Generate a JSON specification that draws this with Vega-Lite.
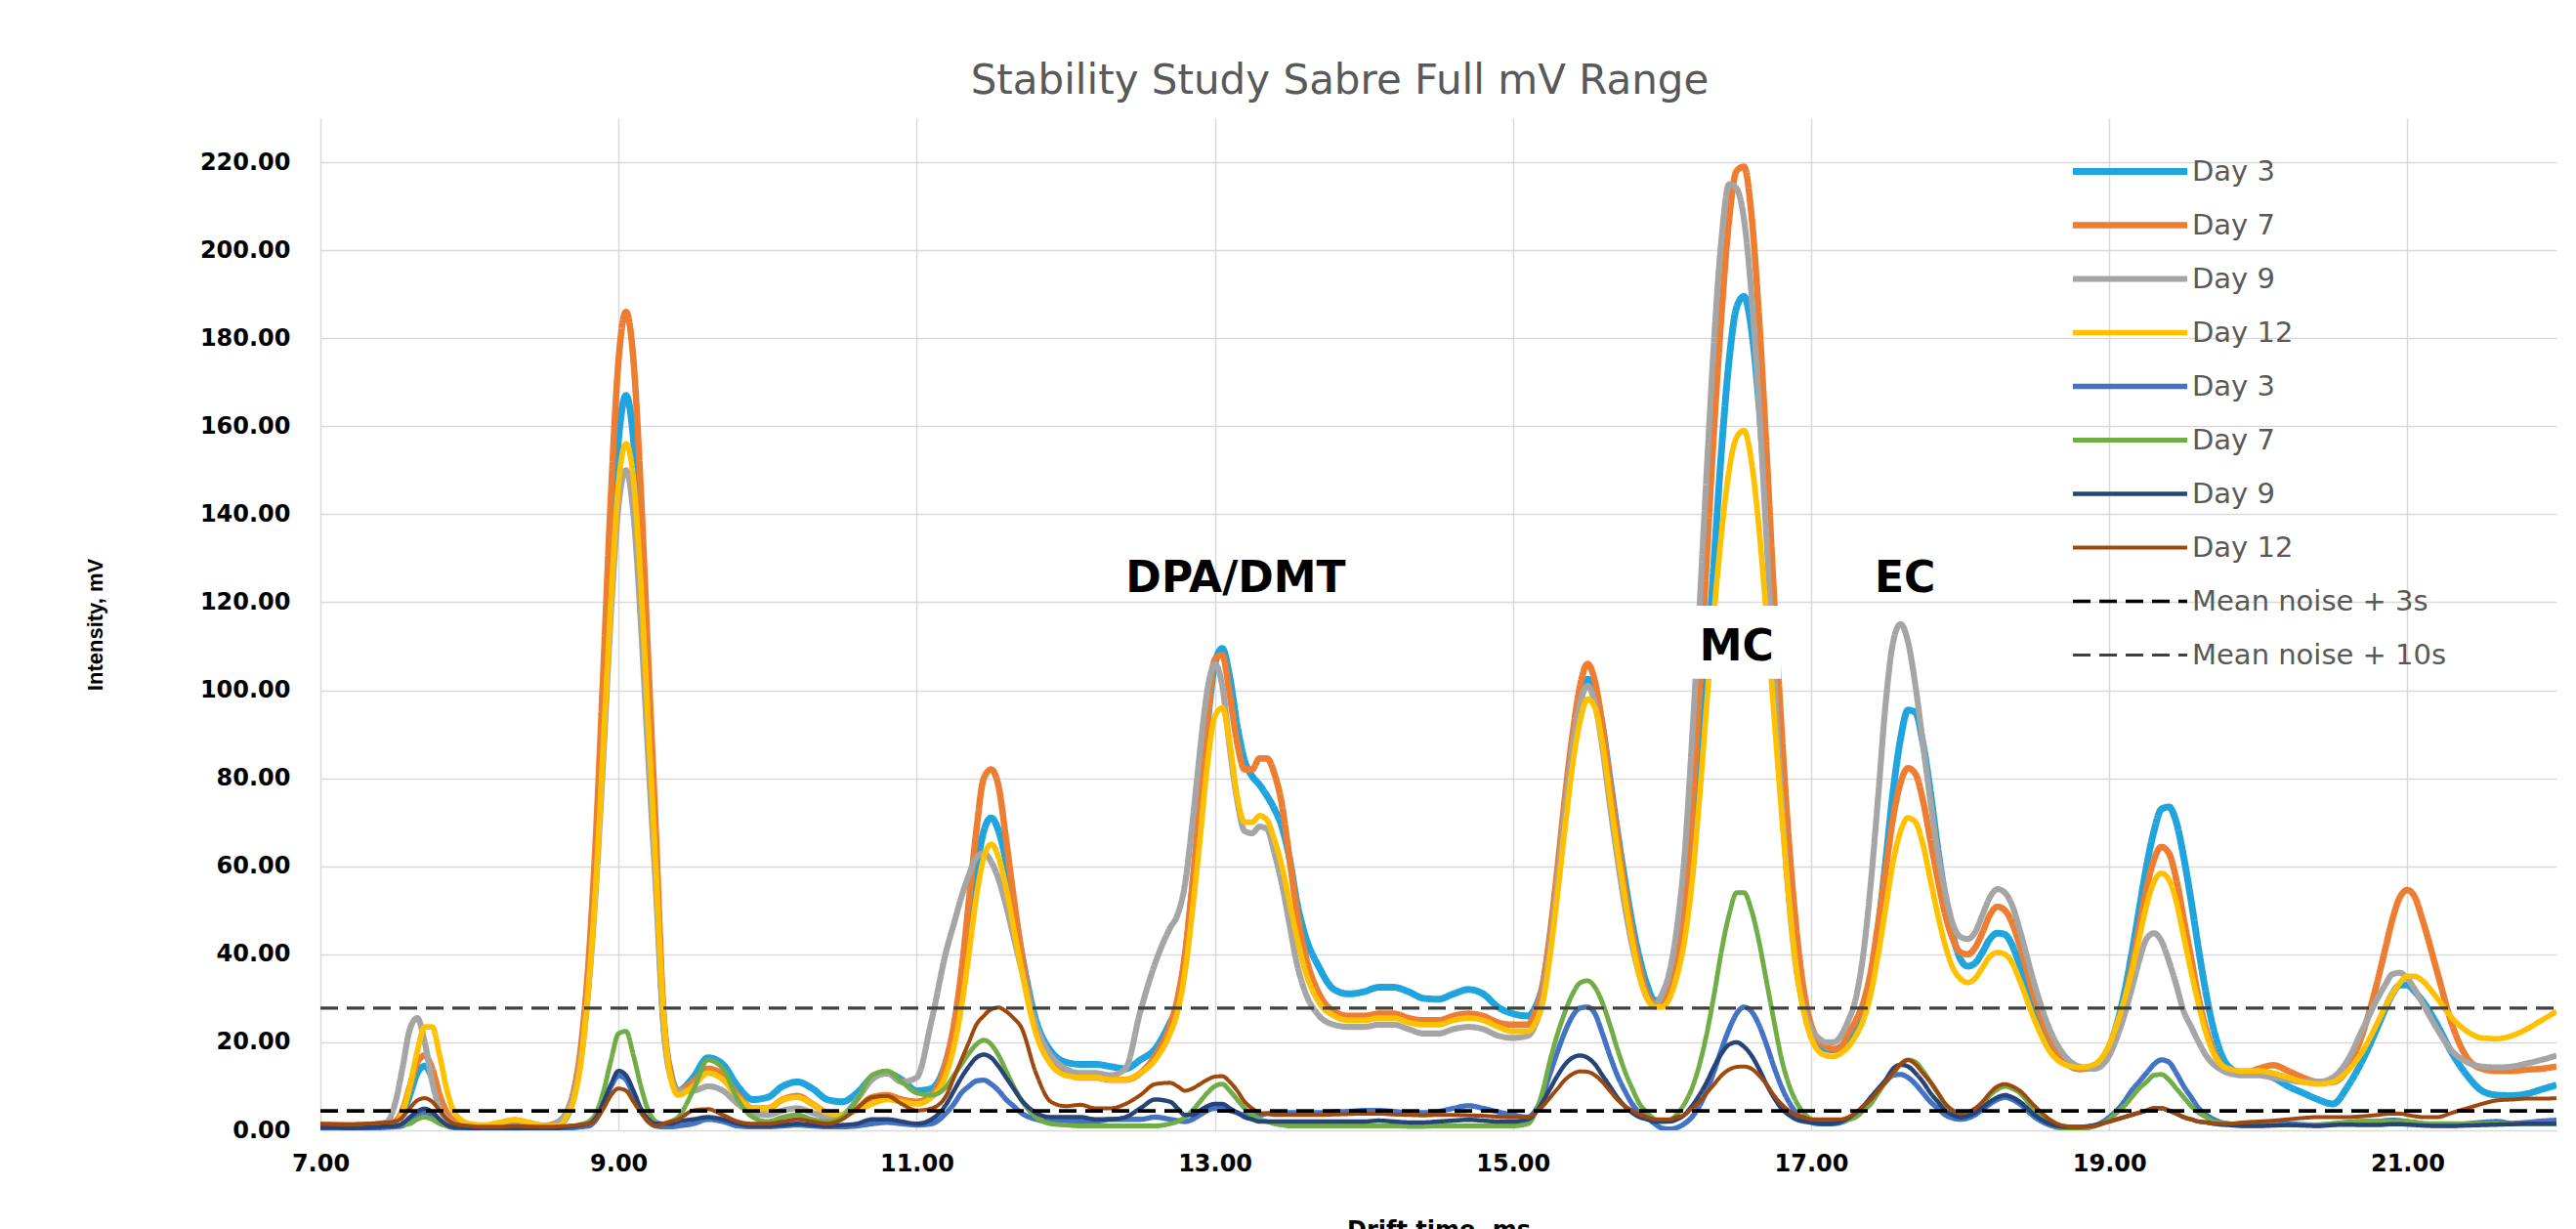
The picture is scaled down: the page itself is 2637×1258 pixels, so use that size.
{
"$schema": "https://vega.github.io/schema/vega-lite/v6.json",
"width": 2289, "height": 1036,
"autosize": {"type": "none"},
"padding": {"left": 328, "top": 121, "right": 20, "bottom": 101},
"background": "white",
"config": {"view": {"stroke": null}, "font": "DejaVu Sans"},
"title": {"text": "Stability Study Sabre Full mV Range", "font": "DejaVu Sans", "fontSize": 42, "fontWeight": "normal", "color": "#595959", "anchor": "middle", "dx": -101, "offset": 16},
"layer": [
{
"data": {"values": [
{"t":7.0,"a3":1.0,"a7":1.2,"a9":0.8,"a12":0.2,"b3":0.5,"b7":0.8,"b9":0.6,"b12":1.5},
{"t":7.1,"a3":1.0,"a7":1.2,"a9":0.8,"a12":0.3,"b3":0.5,"b7":0.7,"b9":0.6,"b12":1.4},
{"t":7.2,"a3":0.9,"a7":1.1,"a9":0.9,"a12":0.4,"b3":0.4,"b7":0.7,"b9":0.5,"b12":1.4},
{"t":7.3,"a3":1.0,"a7":1.2,"a9":1.0,"a12":0.5,"b3":0.5,"b7":0.8,"b9":0.6,"b12":1.5},
{"t":7.4,"a3":1.2,"a7":1.4,"a9":1.5,"a12":0.7,"b3":0.6,"b7":0.9,"b9":0.8,"b12":1.7},
{"t":7.45,"a3":1.3,"a7":1.6,"a9":2.0,"a12":0.9,"b3":0.7,"b7":1.0,"b9":0.9,"b12":1.8},
{"t":7.5,"a3":1.5,"a7":2.0,"a9":6.0,"a12":1.5,"b3":0.8,"b7":1.1,"b9":1.0,"b12":2.0},
{"t":7.55,"a3":3.5,"a7":4.5,"a9":14,"a12":4,"b3":1.0,"b7":1.2,"b9":1.5,"b12":3},
{"t":7.6,"a3":8,"a7":10,"a9":23,"a12":10,"b3":2.5,"b7":1.5,"b9":3,"b12":5},
{"t":7.65,"a3":13,"a7":15.5,"a9":25.5,"a12":18,"b3":3.6,"b7":2.5,"b9":4.3,"b12":6.8},
{"t":7.7,"a3":14.6,"a7":17,"a9":20,"a12":23.5,"b3":4.1,"b7":3,"b9":4.9,"b12":7.3},
{"t":7.75,"a3":12,"a7":14,"a9":11,"a12":23.5,"b3":3.5,"b7":2.5,"b9":4.2,"b12":6.5},
{"t":7.8,"a3":7,"a7":8,"a9":5,"a12":17,"b3":2,"b7":1.5,"b9":2.5,"b12":4.5},
{"t":7.85,"a3":3.5,"a7":4,"a9":2.5,"a12":9,"b3":1,"b7":1,"b9":1.2,"b12":2.5},
{"t":7.9,"a3":2,"a7":2,"a9":1.5,"a12":4,"b3":0.6,"b7":0.7,"b9":0.7,"b12":1.5},
{"t":8.0,"a3":1,"a7":1.2,"a9":0.8,"a12":1.5,"b3":0.4,"b7":0.5,"b9":0.5,"b12":1.0},
{"t":8.1,"a3":0.8,"a7":1.0,"a9":0.6,"a12":1.2,"b3":0.3,"b7":0.4,"b9":0.4,"b12":0.8},
{"t":8.2,"a3":0.8,"a7":1.5,"a9":0.7,"a12":1.8,"b3":0.3,"b7":0.5,"b9":0.4,"b12":0.8},
{"t":8.3,"a3":1.0,"a7":2.2,"a9":0.9,"a12":2.4,"b3":0.4,"b7":0.6,"b9":0.5,"b12":1.0},
{"t":8.4,"a3":0.9,"a7":1.6,"a9":0.8,"a12":1.8,"b3":0.3,"b7":0.5,"b9":0.4,"b12":0.9},
{"t":8.5,"a3":0.8,"a7":1.0,"a9":0.7,"a12":1.0,"b3":0.3,"b7":0.4,"b9":0.4,"b12":0.8},
{"t":8.6,"a3":1.5,"a7":2,"a9":2,"a12":1,"b3":0.4,"b7":0.5,"b9":0.5,"b12":0.9},
{"t":8.65,"a3":3,"a7":4,"a9":4,"a12":3,"b3":0.5,"b7":0.8,"b9":0.7,"b12":1.0},
{"t":8.7,"a3":8,"a7":9,"a9":8,"a12":7,"b3":0.6,"b7":1.0,"b9":0.9,"b12":1.1},
{"t":8.75,"a3":18,"a7":19.6,"a9":17,"a12":16,"b3":0.8,"b7":1.4,"b9":1.2,"b12":1.3},
{"t":8.8,"a3":35,"a7":38.8,"a9":33,"a12":33,"b3":1,"b7":2,"b9":1.5,"b12":1.5},
{"t":8.85,"a3":61,"a7":68,"a9":56,"a12":57,"b3":2.5,"b7":4,"b9":3,"b12":2.5},
{"t":8.9,"a3":95,"a7":106,"a9":86,"a12":89,"b3":6,"b7":9,"b9":6.5,"b12":5},
{"t":8.95,"a3":130,"a7":145,"a9":118,"a12":121,"b3":10,"b7":16,"b9":10.5,"b12":8},
{"t":9.0,"a3":157,"a7":175,"a9":142,"a12":147,"b3":12.4,"b7":22,"b9":13.5,"b12":9.5},
{"t":9.05,"a3":167,"a7":186,"a9":150,"a12":156,"b3":11.5,"b7":22.5,"b9":12.5,"b12":9},
{"t":9.1,"a3":157,"a7":175,"a9":140,"a12":148,"b3":8,"b7":17,"b9":9,"b12":6.5},
{"t":9.15,"a3":130,"a7":145,"a9":115,"a12":124,"b3":4.5,"b7":10,"b9":5,"b12":4},
{"t":9.2,"a3":95,"a7":106,"a9":84,"a12":92,"b3":2,"b7":4.5,"b9":2.5,"b12":2},
{"t":9.25,"a3":61,"a7":68,"a9":55,"a12":60,"b3":1,"b7":2,"b9":1.5,"b12":1},
{"t":9.3,"a3":26,"a7":27,"a9":24,"a12":27,"b3":0.8,"b7":1.5,"b9":1.5,"b12":1.5},
{"t":9.35,"a3":13,"a7":13,"a9":12,"a12":12,"b3":0.8,"b7":2,"b9":1.5,"b12":2},
{"t":9.4,"a3":9,"a7":9,"a9":9,"a12":8,"b3":1,"b7":3,"b9":2,"b12":2.5},
{"t":9.5,"a3":12,"a7":11,"a9":9,"a12":10,"b3":1.5,"b7":9,"b9":2.5,"b12":4.5},
{"t":9.6,"a3":16.5,"a7":14,"a9":10,"a12":13,"b3":2.5,"b7":16,"b9":3,"b12":4.8},
{"t":9.7,"a3":15,"a7":12.5,"a9":9,"a12":11.5,"b3":2,"b7":14,"b9":2.5,"b12":3.5},
{"t":9.8,"a3":10,"a7":8,"a9":6,"a12":7.5,"b3":1,"b7":7,"b9":1.5,"b12":2},
{"t":9.9,"a3":7,"a7":5,"a9":4,"a12":5,"b3":0.8,"b7":3,"b9":1,"b12":1.5},
{"t":10.0,"a3":7.5,"a7":5,"a9":3.5,"a12":5,"b3":0.8,"b7":2,"b9":1,"b12":1.5},
{"t":10.1,"a3":10,"a7":7,"a9":4.5,"a12":7,"b3":1,"b7":3,"b9":1.2,"b12":2},
{"t":10.2,"a3":11,"a7":7.8,"a9":5,"a12":7.5,"b3":1.2,"b7":3.5,"b9":1.5,"b12":2.5},
{"t":10.3,"a3":9.5,"a7":6,"a9":4,"a12":6,"b3":1,"b7":2.5,"b9":1.2,"b12":2},
{"t":10.4,"a3":7,"a7":4,"a9":3,"a12":4,"b3":0.8,"b7":2,"b9":1,"b12":1.5},
{"t":10.5,"a3":6.5,"a7":3.5,"a9":3.5,"a12":3.5,"b3":0.8,"b7":3,"b9":1.2,"b12":2.5},
{"t":10.6,"a3":8.5,"a7":5,"a9":7,"a12":4.5,"b3":1,"b7":7,"b9":1.5,"b12":5},
{"t":10.7,"a3":12,"a7":7.5,"a9":11.5,"a12":6,"b3":1.5,"b7":12.5,"b9":2.5,"b12":7.5},
{"t":10.8,"a3":13,"a7":8,"a9":13,"a12":7,"b3":1.8,"b7":13.5,"b9":2.5,"b12":7.8},
{"t":10.9,"a3":11.5,"a7":7,"a9":11,"a12":6.5,"b3":1.5,"b7":11,"b9":2,"b12":6},
{"t":11.0,"a3":9,"a7":6.5,"a9":12,"a12":6,"b3":1.2,"b7":8.5,"b9":1.5,"b12":4.5},
{"t":11.1,"a3":9.5,"a7":8,"a9":25,"a12":7.5,"b3":1.5,"b7":8,"b9":2.5,"b12":5},
{"t":11.2,"a3":16,"a7":16,"a9":41,"a12":13,"b3":4,"b7":10,"b9":6,"b12":8},
{"t":11.25,"a3":23,"a7":24,"a9":47,"a12":19,"b3":6,"b7":12.5,"b9":9,"b12":12},
{"t":11.3,"a3":33,"a7":36,"a9":53,"a12":28,"b3":8.5,"b7":15,"b9":12,"b12":16},
{"t":11.35,"a3":46,"a7":52,"a9":58,"a12":40,"b3":10,"b7":17.5,"b9":14.5,"b12":20},
{"t":11.4,"a3":59,"a7":68,"a9":62,"a12":53,"b3":11.2,"b7":19.5,"b9":16.5,"b12":24},
{"t":11.45,"a3":68,"a7":80,"a9":63,"a12":62,"b3":11.4,"b7":20.5,"b9":17.2,"b12":26},
{"t":11.5,"a3":71,"a7":82,"a9":61,"a12":65,"b3":10.5,"b7":19.5,"b9":16.5,"b12":27.5},
{"t":11.55,"a3":68,"a7":78,"a9":57,"a12":62,"b3":9,"b7":17,"b9":14.5,"b12":27.9},
{"t":11.6,"a3":61,"a7":66,"a9":51,"a12":55,"b3":7,"b7":13.5,"b9":12,"b12":27},
{"t":11.65,"a3":51,"a7":53,"a9":44,"a12":46,"b3":5.5,"b7":10,"b9":9.5,"b12":25.5},
{"t":11.7,"a3":41,"a7":41,"a9":37,"a12":37,"b3":4,"b7":7,"b9":7,"b12":23.5},
{"t":11.8,"a3":25,"a7":23,"a9":24,"a12":22,"b3":2.5,"b7":3,"b9":4,"b12":13},
{"t":11.9,"a3":18,"a7":15.5,"a9":17,"a12":15,"b3":2,"b7":1.5,"b9":3,"b12":6.5},
{"t":12.0,"a3":15.5,"a7":13,"a9":14,"a12":12.5,"b3":2,"b7":1.2,"b9":3,"b12":5.5},
{"t":12.1,"a3":15,"a7":12,"a9":13,"a12":12,"b3":2,"b7":1,"b9":3,"b12":5.8},
{"t":12.2,"a3":15,"a7":12,"a9":13,"a12":12,"b3":2,"b7":1,"b9":2.5,"b12":5},
{"t":12.3,"a3":14.5,"a7":11.5,"a9":12.5,"a12":11.5,"b3":2.5,"b7":1,"b9":2.5,"b12":5},
{"t":12.4,"a3":14,"a7":11.5,"a9":14,"a12":11.5,"b3":2.5,"b7":1,"b9":3,"b12":6},
{"t":12.5,"a3":16,"a7":13,"a9":27,"a12":13,"b3":2.5,"b7":1,"b9":5,"b12":8},
{"t":12.6,"a3":18.5,"a7":17,"a9":38,"a12":16,"b3":3,"b7":1,"b9":7,"b12":10.5},
{"t":12.7,"a3":24.5,"a7":24,"a9":46,"a12":22,"b3":2.5,"b7":1.5,"b9":6.5,"b12":10.8},
{"t":12.75,"a3":28,"a7":30,"a9":49,"a12":27,"b3":2.2,"b7":2,"b9":5,"b12":10},
{"t":12.8,"a3":39,"a7":40,"a9":56,"a12":36,"b3":2,"b7":3,"b9":3.5,"b12":9},
{"t":12.85,"a3":55,"a7":56,"a9":70,"a12":50,"b3":2.5,"b7":4.5,"b9":3.5,"b12":9.5},
{"t":12.9,"a3":73,"a7":74,"a9":86,"a12":66,"b3":3.5,"b7":6.5,"b9":4.5,"b12":10.5},
{"t":12.95,"a3":92,"a7":93,"a9":100,"a12":83,"b3":4.5,"b7":8.5,"b9":5.5,"b12":11.5},
{"t":13.0,"a3":106,"a7":107,"a9":106,"a12":94,"b3":5,"b7":10,"b9":6,"b12":12.2},
{"t":13.05,"a3":109.5,"a7":108,"a9":101,"a12":96,"b3":5,"b7":10.5,"b9":6,"b12":12.3},
{"t":13.1,"a3":103,"a7":99,"a9":87,"a12":88,"b3":4.5,"b7":9,"b9":5,"b12":11},
{"t":13.15,"a3":92,"a7":88,"a9":75,"a12":76,"b3":4,"b7":7,"b9":4,"b12":9},
{"t":13.2,"a3":84,"a7":82,"a9":68,"a12":70,"b3":3.5,"b7":5,"b9":3,"b12":6.5},
{"t":13.25,"a3":80.5,"a7":82,"a9":67.5,"a12":70,"b3":3.5,"b7":3.5,"b9":2.5,"b12":5},
{"t":13.3,"a3":78.5,"a7":84.5,"a9":69,"a12":71.5,"b3":3.5,"b7":2.5,"b9":2,"b12":4},
{"t":13.35,"a3":76,"a7":84.5,"a9":68.5,"a12":70.5,"b3":3.8,"b7":2,"b9":2,"b12":3.8},
{"t":13.4,"a3":73,"a7":81,"a9":63,"a12":66,"b3":4,"b7":1.5,"b9":2,"b12":3.5},
{"t":13.45,"a3":69,"a7":74,"a9":56,"a12":60,"b3":4,"b7":1.2,"b9":2,"b12":3.5},
{"t":13.5,"a3":62,"a7":62,"a9":47,"a12":52,"b3":4,"b7":1,"b9":2,"b12":3.5},
{"t":13.55,"a3":52,"a7":50,"a9":38,"a12":44,"b3":4,"b7":1,"b9":2,"b12":3.5},
{"t":13.6,"a3":45,"a7":41,"a9":32,"a12":37,"b3":4,"b7":1,"b9":2,"b12":3.5},
{"t":13.7,"a3":37,"a7":31,"a9":26,"a12":29,"b3":4,"b7":1,"b9":2,"b12":3.5},
{"t":13.8,"a3":32,"a7":27,"a9":24,"a12":26,"b3":4.2,"b7":1,"b9":2,"b12":3.6},
{"t":13.9,"a3":31,"a7":26,"a9":23.5,"a12":25,"b3":4.3,"b7":1,"b9":2,"b12":3.7},
{"t":14.0,"a3":31.5,"a7":26,"a9":23.5,"a12":25,"b3":4.5,"b7":1,"b9":2,"b12":3.8},
{"t":14.1,"a3":32.5,"a7":26.5,"a9":24,"a12":25.5,"b3":4.5,"b7":1,"b9":2.2,"b12":3.8},
{"t":14.2,"a3":32.5,"a7":26.5,"a9":24,"a12":25.5,"b3":4.3,"b7":1,"b9":2,"b12":3.6},
{"t":14.3,"a3":31.5,"a7":25.5,"a9":23,"a12":24.5,"b3":4,"b7":0.9,"b9":1.8,"b12":3.5},
{"t":14.4,"a3":30,"a7":25,"a9":22,"a12":24,"b3":4,"b7":0.9,"b9":1.8,"b12":3.4},
{"t":14.5,"a3":29.8,"a7":25,"a9":22,"a12":24,"b3":4.3,"b7":1,"b9":2,"b12":3.5},
{"t":14.6,"a3":31,"a7":26,"a9":23,"a12":25,"b3":5,"b7":1,"b9":2.2,"b12":3.5},
{"t":14.7,"a3":32,"a7":26.5,"a9":23.5,"a12":25.5,"b3":5.6,"b7":1,"b9":2.4,"b12":3.4},
{"t":14.8,"a3":31,"a7":26,"a9":23,"a12":25,"b3":5,"b7":1,"b9":2.2,"b12":3.3},
{"t":14.9,"a3":28,"a7":24.5,"a9":21.5,"a12":23.5,"b3":4.2,"b7":1,"b9":2,"b12":3.1},
{"t":15.0,"a3":26.5,"a7":24,"a9":21,"a12":22.5,"b3":3.5,"b7":1,"b9":2,"b12":3},
{"t":15.1,"a3":26,"a7":24,"a9":21.5,"a12":22.5,"b3":3,"b7":1.5,"b9":2.5,"b12":3},
{"t":15.15,"a3":28,"a7":27,"a9":24,"a12":24.5,"b3":4.5,"b7":4,"b9":4,"b12":4},
{"t":15.2,"a3":33,"a7":33,"a9":30,"a12":29,"b3":8,"b7":9,"b9":6.5,"b12":5.5},
{"t":15.25,"a3":44,"a7":45,"a9":42,"a12":40,"b3":13,"b7":16,"b9":9.5,"b12":7.5},
{"t":15.3,"a3":58,"a7":60,"a9":57,"a12":54,"b3":18,"b7":22,"b9":12.5,"b12":9.5},
{"t":15.35,"a3":73,"a7":76,"a9":73,"a12":69,"b3":22.5,"b7":27,"b9":15,"b12":11.5},
{"t":15.4,"a3":87,"a7":90,"a9":87,"a12":83,"b3":26,"b7":31,"b9":16.5,"b12":12.8},
{"t":15.45,"a3":97,"a7":101,"a9":97,"a12":93,"b3":27.8,"b7":33.5,"b9":17,"b12":13.4},
{"t":15.5,"a3":102.5,"a7":106,"a9":101,"a12":98,"b3":28,"b7":34,"b9":16.5,"b12":13.3},
{"t":15.55,"a3":100,"a7":102,"a9":97,"a12":96,"b3":26.5,"b7":32.5,"b9":15,"b12":12.5},
{"t":15.6,"a3":92,"a7":92,"a9":87,"a12":88,"b3":22,"b7":29,"b9":12.5,"b12":11},
{"t":15.65,"a3":80,"a7":79,"a9":74,"a12":76,"b3":17,"b7":24,"b9":10,"b12":9},
{"t":15.7,"a3":68,"a7":67,"a9":62,"a12":64,"b3":12.5,"b7":18.5,"b9":7.5,"b12":7},
{"t":15.75,"a3":57,"a7":55,"a9":51,"a12":53,"b3":9,"b7":13.5,"b9":5.5,"b12":5.5},
{"t":15.8,"a3":47,"a7":45,"a9":42,"a12":43,"b3":6,"b7":9.5,"b9":4,"b12":4.5},
{"t":15.85,"a3":39,"a7":37,"a9":35,"a12":35,"b3":4,"b7":6,"b9":3,"b12":3.5},
{"t":15.9,"a3":33,"a7":31,"a9":30,"a12":30,"b3":3,"b7":4,"b9":2.5,"b12":3},
{"t":15.95,"a3":29.5,"a7":29,"a9":28.5,"a12":28,"b3":1.5,"b7":2.5,"b9":2,"b12":2.5},
{"t":16.0,"a3":29.5,"a7":29.5,"a9":31,"a12":28,"b3":0.5,"b7":2,"b9":2,"b12":2.5},
{"t":16.05,"a3":32,"a7":33,"a9":36,"a12":30,"b3":0.3,"b7":2.3,"b9":2,"b12":2.5},
{"t":16.1,"a3":37,"a7":40,"a9":46,"a12":35,"b3":0.6,"b7":3.6,"b9":2.5,"b12":3},
{"t":16.15,"a3":46,"a7":52,"a9":62,"a12":43,"b3":1.5,"b7":6,"b9":3.5,"b12":3.5},
{"t":16.2,"a3":60,"a7":72,"a9":88,"a12":56,"b3":3,"b7":9.5,"b9":5.5,"b12":5},
{"t":16.25,"a3":80,"a7":100,"a9":118,"a12":75,"b3":5.5,"b7":14.8,"b9":8,"b12":6.5},
{"t":16.3,"a3":104,"a7":130,"a9":150,"a12":97,"b3":9,"b7":22,"b9":11,"b12":8.5},
{"t":16.35,"a3":130,"a7":160,"a9":180,"a12":118,"b3":13.5,"b7":31,"b9":14.5,"b12":10.5},
{"t":16.4,"a3":155,"a7":186,"a9":203,"a12":136,"b3":18.5,"b7":41,"b9":17.5,"b12":12.5},
{"t":16.45,"a3":175,"a7":207,"a9":215,"a12":150,"b3":23,"b7":49,"b9":19.5,"b12":13.8},
{"t":16.5,"a3":187,"a7":218,"a9":214,"a12":157.5,"b3":26.5,"b7":54,"b9":20,"b12":14.4},
{"t":16.55,"a3":189.5,"a7":219,"a9":207,"a12":159,"b3":28,"b7":54,"b9":19,"b12":14.5},
{"t":16.6,"a3":182,"a7":208,"a9":190,"a12":152,"b3":27,"b7":50,"b9":17,"b12":14},
{"t":16.65,"a3":165,"a7":185,"a9":165,"a12":137,"b3":24,"b7":43,"b9":14,"b12":12.5},
{"t":16.7,"a3":141,"a7":155,"a9":135,"a12":117,"b3":19.5,"b7":34,"b9":10.5,"b12":10.5},
{"t":16.75,"a3":113,"a7":122,"a9":104,"a12":95,"b3":14.5,"b7":25,"b9":7.5,"b12":8},
{"t":16.8,"a3":85,"a7":92,"a9":76,"a12":73,"b3":10,"b7":16.5,"b9":5,"b12":6},
{"t":16.85,"a3":61,"a7":66,"a9":53,"a12":53,"b3":6.5,"b7":10.5,"b9":3.5,"b12":4.5},
{"t":16.9,"a3":42,"a7":46,"a9":37,"a12":37,"b3":4,"b7":6.5,"b9":2.5,"b12":3.5},
{"t":16.95,"a3":30,"a7":32,"a9":28,"a12":27,"b3":2.5,"b7":4,"b9":2,"b12":3},
{"t":17.0,"a3":23,"a7":24,"a9":23,"a12":21,"b3":1.8,"b7":2.5,"b9":1.8,"b12":2.5},
{"t":17.05,"a3":20,"a7":20.5,"a9":21,"a12":18,"b3":1.5,"b7":2,"b9":1.6,"b12":2.5},
{"t":17.1,"a3":18.5,"a7":19,"a9":20,"a12":17,"b3":1.5,"b7":2,"b9":1.5,"b12":2.5},
{"t":17.15,"a3":18.3,"a7":18.5,"a9":20,"a12":16.8,"b3":1.5,"b7":2,"b9":1.6,"b12":2.5},
{"t":17.2,"a3":19,"a7":19,"a9":21.5,"a12":17.5,"b3":1.8,"b7":2,"b9":2,"b12":2.5},
{"t":17.25,"a3":21,"a7":22,"a9":25,"a12":19,"b3":2.5,"b7":2.5,"b9":2.8,"b12":3},
{"t":17.3,"a3":23.5,"a7":25,"a9":30,"a12":21.5,"b3":3.5,"b7":3,"b9":4,"b12":4},
{"t":17.35,"a3":27,"a7":29,"a9":40,"a12":25,"b3":5,"b7":4.5,"b9":5.5,"b12":5.5},
{"t":17.4,"a3":34,"a7":36,"a9":56,"a12":31,"b3":7,"b7":6,"b9":7.5,"b12":7},
{"t":17.45,"a3":46,"a7":47,"a9":76,"a12":40,"b3":9,"b7":8.5,"b9":9.5,"b12":9},
{"t":17.5,"a3":61,"a7":59,"a9":97,"a12":50.5,"b3":11,"b7":11,"b9":11.5,"b12":11},
{"t":17.55,"a3":77,"a7":71,"a9":111,"a12":61,"b3":12.5,"b7":13,"b9":14,"b12":13},
{"t":17.6,"a3":89,"a7":79,"a9":115,"a12":68,"b3":12.7,"b7":15,"b9":14.9,"b12":15},
{"t":17.65,"a3":95.5,"a7":82.3,"a9":111,"a12":71,"b3":12,"b7":16,"b9":14.5,"b12":16},
{"t":17.7,"a3":95,"a7":81,"a9":101,"a12":70,"b3":10.5,"b7":15.5,"b9":13,"b12":15},
{"t":17.75,"a3":88,"a7":75,"a9":88,"a12":65,"b3":8.5,"b7":13.5,"b9":11,"b12":13},
{"t":17.8,"a3":77,"a7":66,"a9":75,"a12":57,"b3":6.5,"b7":11,"b9":8.5,"b12":11},
{"t":17.85,"a3":64,"a7":57,"a9":63,"a12":49,"b3":5,"b7":8.5,"b9":6.5,"b12":8.5},
{"t":17.9,"a3":53,"a7":49,"a9":54,"a12":42,"b3":3.5,"b7":6,"b9":4.5,"b12":6},
{"t":17.95,"a3":44.5,"a7":43.5,"a9":47,"a12":37,"b3":2.8,"b7":4.5,"b9":3.5,"b12":4.5},
{"t":18.0,"a3":39,"a7":40.5,"a9":44,"a12":34.5,"b3":2.5,"b7":3.5,"b9":3,"b12":4},
{"t":18.05,"a3":37.3,"a7":40,"a9":43.5,"a12":33.6,"b3":2.8,"b7":3.8,"b9":3.3,"b12":4.2},
{"t":18.1,"a3":38,"a7":41.5,"a9":45,"a12":34.5,"b3":3.5,"b7":4.5,"b9":4,"b12":5},
{"t":18.15,"a3":40.5,"a7":45,"a9":49,"a12":37,"b3":4.8,"b7":6,"b9":5.2,"b12":6.5},
{"t":18.2,"a3":43.5,"a7":49,"a9":53,"a12":39.5,"b3":6,"b7":8,"b9":6.5,"b12":8.5},
{"t":18.25,"a3":44.8,"a7":50.8,"a9":54.8,"a12":40.4,"b3":7,"b7":9.3,"b9":7.5,"b12":10},
{"t":18.3,"a3":44.5,"a7":50,"a9":54,"a12":40,"b3":7.5,"b7":10,"b9":8,"b12":10.5},
{"t":18.35,"a3":42,"a7":47,"a9":51,"a12":38,"b3":7,"b7":9.5,"b9":7.5,"b12":10},
{"t":18.4,"a3":37.5,"a7":42,"a9":45.5,"a12":34,"b3":6,"b7":8.5,"b9":6.5,"b12":9},
{"t":18.5,"a3":27,"a7":30,"a9":33,"a12":25,"b3":3,"b7":4.5,"b9":3.5,"b12":5.5},
{"t":18.6,"a3":19.5,"a7":21,"a9":23,"a12":18,"b3":1.2,"b7":1.5,"b9":1.5,"b12":2.5},
{"t":18.7,"a3":15.5,"a7":16,"a9":17,"a12":15,"b3":0.5,"b7":0.5,"b9":0.8,"b12":1},
{"t":18.8,"a3":14,"a7":14,"a9":14.5,"a12":14.3,"b3":0.5,"b7":0.4,"b9":0.8,"b12":0.8},
{"t":18.9,"a3":14.5,"a7":14.5,"a9":14,"a12":15,"b3":1,"b7":1,"b9":1.2,"b12":1},
{"t":19.0,"a3":19,"a7":18.5,"a9":17,"a12":19.5,"b3":3,"b7":2.5,"b9":2,"b12":2},
{"t":19.05,"a3":24,"a7":23,"a9":21,"a12":24,"b3":4.5,"b7":4,"b9":2.5,"b12":2.5},
{"t":19.1,"a3":31,"a7":29,"a9":26,"a12":29.5,"b3":6.5,"b7":5.5,"b9":3,"b12":3},
{"t":19.15,"a3":40,"a7":37,"a9":32,"a12":36,"b3":9,"b7":7.5,"b9":3.5,"b12":3.5},
{"t":19.2,"a3":50,"a7":46,"a9":38.5,"a12":43.5,"b3":11,"b7":9.5,"b9":4,"b12":4},
{"t":19.25,"a3":60,"a7":55,"a9":43.5,"a12":51,"b3":13,"b7":11,"b9":4.5,"b12":4.5},
{"t":19.3,"a3":68,"a7":61.5,"a9":44.8,"a12":56.5,"b3":15,"b7":12.5,"b9":5,"b12":5},
{"t":19.35,"a3":73,"a7":64.4,"a9":43,"a12":58.4,"b3":16,"b7":12.7,"b9":5,"b12":5},
{"t":19.4,"a3":73.5,"a7":63,"a9":38.5,"a12":57,"b3":15.5,"b7":11.5,"b9":4.5,"b12":4.5},
{"t":19.45,"a3":70,"a7":57,"a9":33,"a12":52,"b3":13,"b7":9.5,"b9":3.8,"b12":3.8},
{"t":19.5,"a3":62,"a7":48,"a9":27,"a12":44,"b3":10,"b7":7.5,"b9":3,"b12":3},
{"t":19.55,"a3":52,"a7":39,"a9":23.5,"a12":36,"b3":7.5,"b7":5.5,"b9":2.5,"b12":2.5},
{"t":19.6,"a3":41,"a7":30,"a9":20,"a12":28.5,"b3":5,"b7":4,"b9":2,"b12":2},
{"t":19.65,"a3":31,"a7":23,"a9":17,"a12":22,"b3":3.5,"b7":3,"b9":1.8,"b12":1.8},
{"t":19.7,"a3":23,"a7":18,"a9":15,"a12":17.5,"b3":2.5,"b7":2,"b9":1.5,"b12":1.5},
{"t":19.75,"a3":17.5,"a7":15,"a9":13.8,"a12":15,"b3":1.8,"b7":1.7,"b9":1.3,"b12":1.5},
{"t":19.8,"a3":14.5,"a7":13.5,"a9":13,"a12":14,"b3":1.5,"b7":1.5,"b9":1.2,"b12":1.5},
{"t":19.9,"a3":13,"a7":13,"a9":12.5,"a12":13.5,"b3":1.2,"b7":1.3,"b9":1,"b12":1.8},
{"t":20.0,"a3":13,"a7":14,"a9":12.5,"a12":13.5,"b3":1.2,"b7":1.2,"b9":1,"b12":2},
{"t":20.1,"a3":12,"a7":14.8,"a9":12,"a12":13,"b3":1.3,"b7":1.3,"b9":1.1,"b12":2.2},
{"t":20.2,"a3":10,"a7":13.5,"a9":11.5,"a12":12,"b3":1.5,"b7":1.2,"b9":1.2,"b12":2.5},
{"t":20.3,"a3":8.5,"a7":12,"a9":11,"a12":11,"b3":1.3,"b7":1.2,"b9":1.1,"b12":2.8},
{"t":20.4,"a3":7,"a7":11,"a9":11,"a12":10.5,"b3":1.2,"b7":1.3,"b9":1,"b12":3},
{"t":20.5,"a3":6,"a7":11,"a9":12,"a12":11,"b3":1.5,"b7":1.5,"b9":1.2,"b12":3},
{"t":20.6,"a3":10,"a7":14,"a9":16,"a12":13.5,"b3":1.8,"b7":1.8,"b9":1.3,"b12":3},
{"t":20.7,"a3":16,"a7":22,"a9":23,"a12":18,"b3":2,"b7":2,"b9":1.2,"b12":3.2},
{"t":20.8,"a3":23.5,"a7":34,"a9":30,"a12":24.5,"b3":2,"b7":2,"b9":1.2,"b12":3.5},
{"t":20.85,"a3":27.5,"a7":41,"a9":33,"a12":28,"b3":2.2,"b7":2,"b9":1.3,"b12":3.7},
{"t":20.9,"a3":31,"a7":48,"a9":35.5,"a12":31,"b3":2.3,"b7":2,"b9":1.4,"b12":3.8},
{"t":20.95,"a3":33,"a7":53,"a9":35.8,"a12":33.5,"b3":2.2,"b7":2,"b9":1.4,"b12":3.8},
{"t":21.0,"a3":33,"a7":54.6,"a9":34.5,"a12":35,"b3":2,"b7":2,"b9":1.3,"b12":3.5},
{"t":21.05,"a3":31.5,"a7":53,"a9":32,"a12":35,"b3":1.8,"b7":1.8,"b9":1.2,"b12":3.2},
{"t":21.1,"a3":29.5,"a7":48,"a9":29,"a12":34,"b3":1.5,"b7":1.6,"b9":1.1,"b12":3},
{"t":21.2,"a3":24,"a7":36,"a9":23,"a12":30,"b3":1.3,"b7":1.5,"b9":1,"b12":3},
{"t":21.3,"a3":17.5,"a7":24,"a9":18,"a12":25.5,"b3":1.2,"b7":1.5,"b9":1,"b12":4},
{"t":21.4,"a3":12.5,"a7":16.5,"a9":15.5,"a12":22.5,"b3":1.5,"b7":1.5,"b9":1.1,"b12":5},
{"t":21.5,"a3":9,"a7":14,"a9":14.5,"a12":21,"b3":1.8,"b7":1.5,"b9":1.2,"b12":6},
{"t":21.6,"a3":8,"a7":13.5,"a9":14.3,"a12":20.8,"b3":2,"b7":1.5,"b9":1.3,"b12":6.8},
{"t":21.7,"a3":7.9,"a7":13.5,"a9":14.5,"a12":21.5,"b3":1.6,"b7":1.5,"b9":1.4,"b12":7},
{"t":21.8,"a3":8.3,"a7":13.8,"a9":15.2,"a12":23,"b3":1.8,"b7":1.5,"b9":1.5,"b12":7.2},
{"t":21.9,"a3":9.3,"a7":14,"a9":16,"a12":25,"b3":2.1,"b7":1.5,"b9":1.5,"b12":7.2},
{"t":22.0,"a3":10.3,"a7":14.5,"a9":17,"a12":27,"b3":2.3,"b7":1.5,"b9":1.5,"b12":7.3}
]},
"transform": [{"fold": ["a3","a7","a9","a12","b3","b7","b9","b12"], "as": ["series","v"]}],
"mark": {"type": "line", "interpolate": "monotone", "strokeJoin": "round", "clip": true},
"encoding": {
"x": {"field": "t", "type": "quantitative", "title": "Drift time, ms",
"scale": {"domain": [7, 22], "nice": false, "zero": false},
"axis": {"values": [7,9,11,13,15,17,19,21], "format": ".2f", "labelFlush": false, "labelFont": "DejaVu Sans", "labelFontWeight": "bold", "labelFontSize": 24, "labelColor": "#000000", "labelPadding": 22, "ticks": false, "domain": false, "grid": true, "gridColor": "#D9D9D9", "gridWidth": 1.5, "titleFont": "DejaVu Sans", "titleFontWeight": "bold", "titleFontSize": 24, "titleColor": "#000000", "titlePadding": 44}},
"y": {"field": "v", "type": "quantitative", "title": "Intensity, mV",
"scale": {"domain": [0, 230], "nice": false},
"axis": {"values": [0,20,40,60,80,100,120,140,160,180,200,220], "format": ".2f", "labelFont": "DejaVu Sans", "labelFontWeight": "bold", "labelFontSize": 24, "labelColor": "#000000", "labelPadding": 31, "ticks": false, "domain": false, "grid": true, "gridColor": "#D9D9D9", "gridWidth": 1.5, "titleFont": "Liberation Sans", "titleFontWeight": "bold", "titleFontSize": 22, "titleColor": "#000000", "titlePadding": 95}},
"color": {"field": "series", "type": "nominal",
"scale": {"domain": ["a3","a7","a9","a12","b3","b7","b9","b12","n3","n10"], "range": ["#20A4DD","#ED7D31","#A5A5A5","#FFC000","#4472C4","#70AD47","#264478","#9E480E","#000000","#404040"]},
"legend": {"title": null, "orient": "none", "legendX": 1838, "legendY": 40, "symbolType": "M-9,0H9", "symbolSize": 169, "labelFont": "DejaVu Sans", "labelFontSize": 29, "labelColor": "#595959", "labelOffset": 49, "labelLimit": 600, "rowPadding": 25, "labelExpr": "{'a3':'Day 3','a7':'Day 7','a9':'Day 9','a12':'Day 12','b3':'Day 3','b7':'Day 7','b9':'Day 9','b12':'Day 12','n3':'Mean noise + 3s','n10':'Mean noise + 10s'}[datum.label]"}},
"strokeWidth": {"field": "series", "type": "nominal",
"scale": {"domain": ["a3","a7","a9","a12","b3","b7","b9","b12","n3","n10"], "range": [7,3.2,3.2,3.2,3.2,3.2,3.2,3.2,6,5]}},
"strokeDash": {"field": "series", "type": "nominal",
"scale": {"domain": ["a3","a7","a9","a12","b3","b7","b9","b12","n3","n10"], "range": [[1,0],[1,0],[1,0],[1,0],[1,0],[1,0],[1,0],[1,0],[18,9],[18,9]]}}
}
},
{
"data": {"values": [
{"series":"n3","t":7,"v":4.4},{"series":"n3","t":22,"v":4.4},
{"series":"n10","t":7,"v":27.8},{"series":"n10","t":22,"v":27.8}
]},
"mark": {"type": "line"},
"encoding": {
"x": {"field": "t", "type": "quantitative", "title": "Drift time, ms"},
"y": {"field": "v", "type": "quantitative", "title": "Intensity, mV"},
"color": {"field": "series", "type": "nominal"},
"strokeWidth": {"field": "series", "type": "nominal"},
"strokeDash": {"field": "series", "type": "nominal"}
}
},
{
"data": {"values": [{"t1":16.19,"t2":16.8,"v1":102.6,"v2":119.2}]},
"mark": {"type": "rect", "fill": "#FFFFFF"},
"encoding": {
"x": {"field": "t1", "type": "quantitative", "title": "Drift time, ms"},
"x2": {"field": "t2"},
"y": {"field": "v1", "type": "quantitative", "title": "Intensity, mV"},
"y2": {"field": "v2"}
}
},
{
"data": {"values": [
{"label":"DPA/DMT","t":13.14,"v":125.2},
{"label":"MC","t":16.5,"v":109.6},
{"label":"EC","t":17.63,"v":125.2}
]},
"mark": {"type": "text", "font": "DejaVu Sans", "fontWeight": "bold", "fontSize": 44, "baseline": "middle", "align": "center", "color": "#000000"},
"encoding": {
"x": {"field": "t", "type": "quantitative", "title": "Drift time, ms"},
"y": {"field": "v", "type": "quantitative", "title": "Intensity, mV"},
"text": {"field": "label"}
}
}
]
}
